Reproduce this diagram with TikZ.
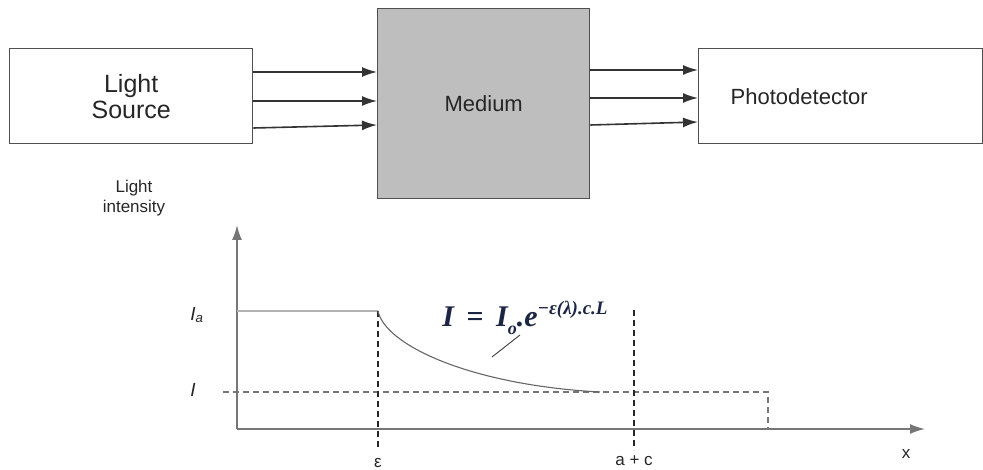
\documentclass[tikz,border=0pt]{standalone}
\usepackage{fontspec}
\setsansfont{Liberation Sans}
\newfontfamily\formulafont{Liberation Serif}
\usetikzlibrary{arrows.meta}
\definecolor{boxline}{HTML}{505050}
\definecolor{mediumgray}{HTML}{BEBEBE}
\definecolor{axisgray}{HTML}{767676}
\definecolor{formulablue}{HTML}{1C2544}
\tikzset{
  block/.style={draw=boxline, line width=1.4pt, anchor=north west, inner sep=0pt,
    align=center, text=black!85, font=\fontsize{22}{26}\selectfont\sffamily},
  ray/.style={-{Latex[length=15pt,width=10pt]}, line width=1.6pt, draw=black!80},
  axis/.style={-{Latex[length=15pt,width=10pt]}, line width=1.6pt, draw=axisgray},
  guide/.style={dash pattern=on 6pt off 4pt, line width=1.3pt},
  lbl/.style={inner sep=0pt, text=black!85, font=\fontsize{17}{20}\selectfont\sffamily}
}
\begin{document}
\begin{tikzpicture}[x=1pt,y=-1pt]
\useasboundingbox (0,0) rectangle (983,470);

\node[block, font=\fontsize{25}{26}\selectfont\sffamily, minimum width=243pt, minimum height=95pt] (src) at (9,48) {Light\\Source};
\node[block, fill=mediumgray, minimum width=212pt, minimum height=190pt] (med) at (377,8) {Medium};
\node[block, inner xsep=32pt, text width=220pt, align=left, minimum height=95pt] (det) at (698,48) {Photodetector};

\draw[ray] (src.east |- 0,72) -- (med.west |- 0,72);
\draw[ray] (src.east |- 0,101) -- (med.west |- 0,101);
\draw[ray] (src.east |- 0,128) -- (med.west |- 0,125);
\draw[ray] (med.east |- 0,70) -- (det.west |- 0,70);
\draw[ray] (med.east |- 0,98) -- (det.west |- 0,98);
\draw[ray] (med.east |- 0,125) -- (det.west |- 0,122);

\coordinate (O) at (237,429);
\coordinate (Ia) at (378,311);
\draw[axis] (O) -- (237,225);
\draw[axis] (O) -- (925,429);
\node[lbl, align=center] (ylbl) at (134,198) {Light\\intensity};
\node[lbl, font=\fontsize{19}{20}\selectfont\sffamily\itshape] (Iolbl) at (197,315) {I\textsubscript{a}};
\node[lbl, font=\fontsize{19}{20}\selectfont\sffamily\itshape] (Ilbl) at (193,390) {I};

\draw[line width=2.6pt, draw=black!30] (O |- Ia) -- (Ia);
\draw[guide, draw=axisgray] (223,392) -- (768,392) -- (768,429);
\draw[guide, draw=black!85] (Ia) -- (378,450);
\draw[guide, draw=black!85] (634,310) -- (634,450);
\draw[line width=1.1pt, draw=black!60] (Ia) .. controls (385,345) and (470,385) .. (600,392);

\node[inner sep=0pt, text=formulablue, font=\fontsize{30}{32}\selectfont\formulafont\bfseries\itshape] (law) at (525,318)
  {I \,\textup{=}\, I\raisebox{-8pt}{\fontsize{18}{18}\selectfont o}.e\raisebox{12pt}{\fontsize{19}{20}\selectfont −ε(λ).c.L}};
\draw[line width=1pt, draw=black!70] (520,335) -- (492,357);

\node[lbl] (eps) at (378,463) {ε};
\node[lbl] (ac) at (634,461) {a + c};
\node[lbl] (xlbl) at (906,454) {x};
\end{tikzpicture}
\end{document}
